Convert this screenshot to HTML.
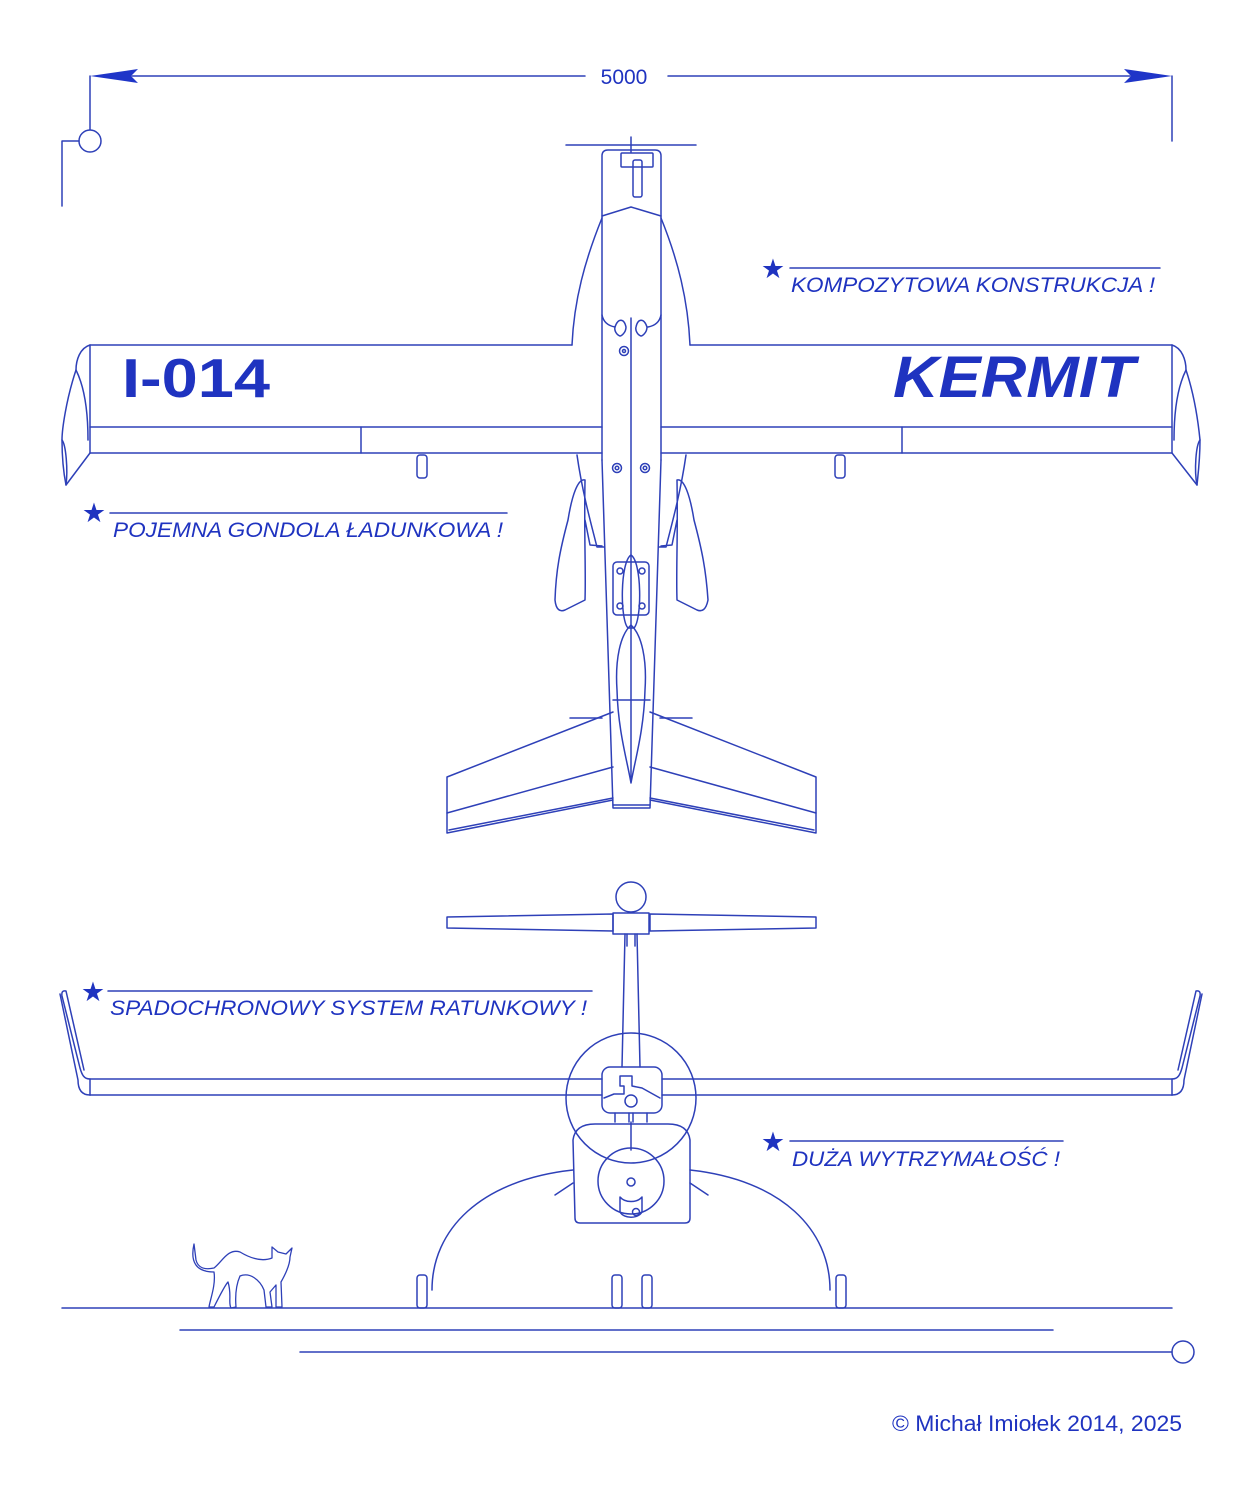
<!DOCTYPE html>
<html><head><meta charset="utf-8"><style>
html,body{margin:0;padding:0;background:#fff;}
svg{display:block;}
text{font-family:"Liberation Sans",sans-serif;fill:#1f33c0;}
</style></head><body>
<svg width="1259" height="1500" viewBox="0 0 1259 1500" xmlns="http://www.w3.org/2000/svg">
<g fill="none" stroke="#2e40b8" stroke-width="1.5" stroke-linejoin="round" stroke-linecap="round">
<line x1="132" y1="76" x2="585" y2="76"/>
<line x1="668" y1="76" x2="1130" y2="76"/>
<line x1="90" y1="76" x2="90" y2="130"/>
<circle cx="90" cy="141" r="11" fill="#fff"/>
<polyline points="79,141 62,141 62,206"/>
<line x1="1172" y1="76" x2="1172" y2="141"/>

<line x1="566" y1="145" x2="696" y2="145"/>
<line x1="631" y1="137" x2="631" y2="152"/>
<path d="M602,460 L602,156 Q602,150 608,150 L655,150 Q661,150 661,156 L661,460"/>
<path d="M602,460 L613,808 L650,808 L661,460"/>
<rect x="621" y="153" width="32" height="14" rx="1"/>
<rect x="633" y="160" width="9" height="37" rx="2"/>
<line x1="631" y1="318" x2="631" y2="780"/>
<path d="M602,216 L631,207 L661,216"/>
<path d="M602,218 C585,260 574,300 572,345"/>
<path d="M661,218 C678,260 688,300 690,345"/>
<path d="M602,315 Q604,325 615,327 M661,315 Q659,325 648,327"/>
<path d="M615,327 C618,318 624,318 626,327 C626,333 621,336 620,336 C617,335 614,331 615,327Z"/>
<path d="M636,327 C638,318 644,318 647,327 C647,333 642,336 641,336 C638,335 635,331 636,327Z"/>
<circle cx="624" cy="351" r="4.5"/><circle cx="624" cy="351" r="1.5"/>
<circle cx="617" cy="468" r="4.5"/><circle cx="617" cy="468" r="1.8"/>
<circle cx="645" cy="468" r="4.5"/><circle cx="645" cy="468" r="1.8"/>
<path d="M577,455 C582,490 590,520 597,547 L604,547"/>
<path d="M686,455 C681,490 673,520 666,547 L659,547"/>
<path d="M90,345 L572,345 M690,345 L1172,345"/>
<path d="M90,453 L602,453 M661,453 L1172,453"/>
<path d="M90,427 L602,427 M661,427 L1172,427"/>
<line x1="90" y1="345" x2="90" y2="453"/>
<line x1="1172" y1="345" x2="1172" y2="453"/>
<line x1="361" y1="427" x2="361" y2="453"/>
<line x1="902" y1="427" x2="902" y2="453"/>
<path d="M90,345 C80,348 76,360 76,370 C66,400 62,430 62,440 C62,460 64,475 66,485 L90,453"/>
<path d="M76,370 C86,390 88,420 88,440"/>
<path d="M62,440 C66,445 68,470 66,485"/>
<path d="M1172,345 C1182,348 1186,360 1186,370 C1196,400 1199,430 1200,440 C1200,460 1198,475 1197,485 L1172,453"/>
<path d="M1186,370 C1176,390 1174,420 1174,440"/>
<path d="M1200,440 C1196,445 1194,470 1197,485"/>
<rect x="417" y="455" width="10" height="23" rx="3"/>
<rect x="835" y="455" width="10" height="23" rx="3"/>
<path d="M585,480 C578,478 572,495 568,520 C560,550 556,570 555,600 C556,610 560,612 565,610 L585,600 C586,570 584,540 585,480Z"/>
<path d="M677,480 C684,478 690,495 694,520 C702,550 706,570 708,600 C706,610 702,612 697,610 L677,600 C676,570 678,540 677,480Z"/>
<path d="M585,520 L590,545 L602,546 M677,520 L672,545 L661,546"/>
<rect x="613" y="562" width="36" height="53" rx="4"/>
<circle cx="620" cy="571" r="3"/><circle cx="642" cy="571" r="3"/>
<circle cx="620" cy="606" r="3"/><circle cx="642" cy="606" r="3"/>
<path d="M631,555 C620,562 620,620 628,628 L634,628 C642,620 642,562 631,555Z"/>
<path d="M631,625 C620,635 615,660 617,690 C618,730 627,760 631,783 C635,760 644,730 645,690 C647,660 642,635 631,625Z"/>
<line x1="613" y1="700" x2="650" y2="700"/>
<line x1="613" y1="805" x2="650" y2="805"/>
<line x1="570" y1="718" x2="602" y2="718"/>
<line x1="660" y1="718" x2="692" y2="718"/>
<path d="M613,712 L447,777 L447,833 L613,800"/>
<path d="M613,767 L447,813"/>
<path d="M613,798 L449,830"/>
<path d="M650,712 L816,777 L816,833 L650,800"/>
<path d="M650,767 L816,813"/>
<path d="M650,798 L814,830"/>

<circle cx="631" cy="897" r="15"/>
<path d="M447,917 L613,914 L613,931 L447,928 Z"/>
<path d="M816,917 L650,914 L650,931 L816,928 Z"/>
<rect x="613" y="913" width="36" height="21"/>
<path d="M625,934 L622,1067 M637,934 L640,1067"/>
<path d="M627,934 L627,946 M635,934 L635,946"/>
<circle cx="631" cy="1098" r="65"/>
<path d="M90,1079 L602,1079 M662,1079 L1172,1079"/>
<path d="M90,1095 L602,1095 M662,1095 L1172,1095"/>
<path d="M90,1079 L90,1095 M1172,1079 L1172,1095"/>
<path d="M90,1079 C84,1079 82,1075 80,1068 L62,996 Q61,990 66,991 L84,1070 M90,1095 C82,1095 78,1090 78,1080 L60,994"/>
<path d="M1172,1079 C1178,1079 1180,1075 1182,1068 L1200,996 Q1201,990 1196,991 L1178,1070 M1172,1095 C1180,1095 1184,1090 1184,1080 L1202,994"/>
<rect x="602" y="1067" width="60" height="46" rx="8"/>
<path d="M604,1098 L614,1094 L624,1094 L624,1086 L620,1086 L620,1076 L632,1076 L632,1086 L642,1088 L660,1098"/>
<circle cx="631" cy="1101" r="6"/>
<path d="M615,1113 L615,1122 M647,1113 L647,1122 M629,1113 L629,1122 M633,1113 L633,1122"/>
<line x1="631" y1="1122" x2="631" y2="1150"/>
<path d="M573,1140 Q575,1124 595,1124 L668,1124 Q688,1124 690,1140 L690,1218 Q690,1223 685,1223 L580,1223 Q575,1223 575,1218 Z"/>
<circle cx="631" cy="1181" r="33"/>
<circle cx="631" cy="1182" r="4"/>
<path d="M620,1197 C625,1203 637,1203 642,1197 L642,1212 C638,1219 624,1219 620,1212 Z"/>
<circle cx="636" cy="1212" r="3.5"/>
<path d="M432,1290 C432,1230 480,1180 573,1170"/>
<path d="M830,1290 C830,1230 782,1180 690,1170"/>
<path d="M573,1183 L555,1195 M690,1183 L708,1195"/>
<rect x="417" y="1275" width="10" height="33" rx="3"/>
<rect x="836" y="1275" width="10" height="33" rx="3"/>
<rect x="612" y="1275" width="10" height="33" rx="3"/>
<rect x="642" y="1275" width="10" height="33" rx="3"/>
<line x1="62" y1="1308" x2="1172" y2="1308"/>
<line x1="180" y1="1330" x2="1053" y2="1330"/>
<line x1="300" y1="1352" x2="1172" y2="1352"/>
<circle cx="1183" cy="1352" r="11"/>
<path stroke-width="1.3" d="M194,1244 C190,1262 196,1272 214,1272 C216,1285 210,1300 209,1307 L214,1307 C220,1295 225,1285 228,1282 C232,1295 228,1303 231,1308 L236,1307 C235,1295 236,1285 240,1276 C250,1272 260,1280 264,1290 L266,1307 L272,1307 L270,1292 L276,1285 L276,1307 L282,1307 L281,1282 C285,1275 290,1265 290,1257 L292,1248 L286,1254 L278,1252 L272,1247 L272,1258 C262,1262 250,1258 240,1252 C228,1248 222,1262 214,1268 C205,1270 198,1268 196,1260 Z"/>
<line x1="790" y1="268" x2="1160" y2="268"/>
<line x1="110" y1="513" x2="507" y2="513"/>
<line x1="108" y1="991" x2="592" y2="991"/>
<line x1="790" y1="1141" x2="1063" y2="1141"/>
</g>
<path d="M90,76 L138,69 L131,76 L138,83 Z" fill="#1f35c8"/>
<path d="M1172,76 L1124,69 L1131,76 L1124,83 Z" fill="#1f35c8"/>
<text x="624" y="84" font-size="21" text-anchor="middle">5000</text>
<g font-size="21" font-style="italic" lengthAdjust="spacingAndGlyphs">
<text x="773" y="278" font-style="normal" font-size="27" text-anchor="middle">★</text>
<text x="791" y="292" textLength="364" lengthAdjust="spacingAndGlyphs">KOMPOZYTOWA KONSTRUKCJA !</text>
<text x="94" y="522" font-style="normal" font-size="27" text-anchor="middle">★</text>
<text x="113" y="537" textLength="390" lengthAdjust="spacingAndGlyphs">POJEMNA GONDOLA ŁADUNKOWA !</text>
<text x="93" y="1001" font-style="normal" font-size="27" text-anchor="middle">★</text>
<text x="110" y="1015" textLength="477" lengthAdjust="spacingAndGlyphs">SPADOCHRONOWY SYSTEM RATUNKOWY !</text>
<text x="773" y="1151" font-style="normal" font-size="27" text-anchor="middle">★</text>
<text x="792" y="1166" textLength="268" lengthAdjust="spacingAndGlyphs">DUŻA WYTRZYMAŁOŚĆ !</text>
</g>
<text x="122" y="397" font-size="55" font-weight="bold" textLength="148" lengthAdjust="spacingAndGlyphs">I-014</text>
<text x="893" y="397" font-size="58" font-weight="bold" font-style="italic" textLength="242" lengthAdjust="spacingAndGlyphs">KERMIT</text>
<text x="892" y="1431" font-size="22" textLength="290" lengthAdjust="spacingAndGlyphs">© Michał Imiołek 2014, 2025</text>
</svg>
</body></html>
